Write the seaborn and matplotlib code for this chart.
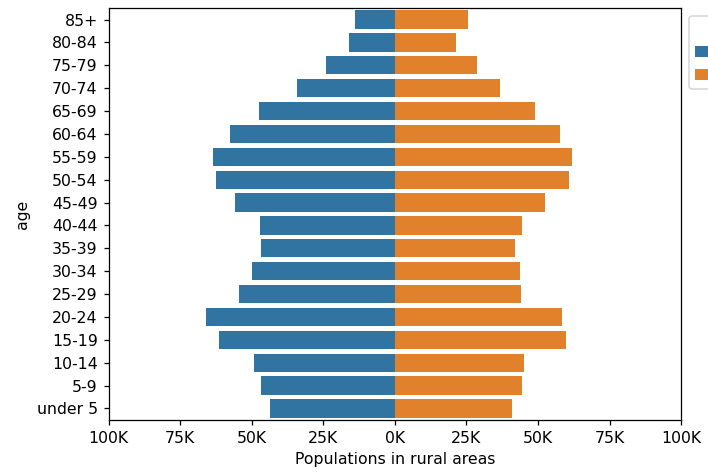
import numpy as np
import pandas as pd
import matplotlib
matplotlib.use("Agg")
import matplotlib.pyplot as plt
import seaborn as sns

# age groups, top to bottom
ages = ["85+", "80-84", "75-79", "70-74", "65-69", "60-64", "55-59", "50-54",
        "45-49", "40-44", "35-39", "30-34", "25-29", "20-24", "15-19",
        "10-14", "5-9", "under 5"]

# population in thousands
male = [13.9, 15.9, 24.0, 34.3, 47.6, 57.5, 63.7, 62.5, 56.0, 47.1,
        46.8, 50.0, 54.4, 66.0, 61.6, 49.2, 46.8, 43.6]
female = [25.6, 21.2, 28.7, 36.7, 48.8, 57.6, 62.0, 60.9, 52.4, 44.4,
          42.0, 43.6, 44.1, 58.4, 59.7, 45.1, 44.4, 40.8]

df = pd.DataFrame({
    "age": ages * 2,
    "gender": ["male"] * len(ages) + ["female"] * len(ages),
    "population": [-v * 1000 for v in male] + [v * 1000 for v in female],
})

dpi = 113
fig = plt.figure(figsize=(708 / dpi, 475 / dpi), dpi=dpi)
ax = fig.add_axes([0.1535, 0.116, 0.8085, 0.867])

sns.barplot(data=df, x="population", y="age", hue="gender", order=ages,
            dodge=False, ax=ax)

ticks = [-100000, -75000, -50000, -25000, 0, 25000, 50000, 75000, 100000]
ax.set_xlim(-100000, 100000)
ax.set_xticks(ticks)
ax.set_xticklabels([f"{abs(t) // 1000}K" for t in ticks])
ax.set_xlabel("Populations in rural areas")
ax.set_ylabel("age")

sns.move_legend(ax, "upper left", bbox_to_anchor=(1, 1), title="gender")

fig.savefig("out.png", dpi=dpi)
